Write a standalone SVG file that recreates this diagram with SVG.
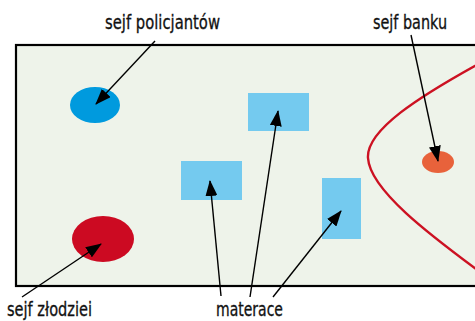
<svg xmlns="http://www.w3.org/2000/svg" width="475" height="321" viewBox="0 0 475 321">
<defs>
<marker id="ah" markerUnits="userSpaceOnUse" markerWidth="16" markerHeight="12" refX="15" refY="6" orient="auto">
<path d="M0,0 L16,6 L0,12 Z" fill="#000"/>
</marker>
<style>
.lbl{font-family:"Liberation Sans Narrow","DejaVu Sans Condensed","Liberation Sans",sans-serif;font-size:20px;fill:#111;stroke:#111;stroke-width:0.3;text-anchor:middle}
.con{stroke:#000;stroke-width:1.4;fill:none}
.mat{fill:#74caef}
</style>
</defs>
<rect x="0" y="0" width="475" height="321" fill="#fff"/>
<rect id="area" x="16" y="45" width="470" height="241" fill="#eef3ea" stroke="#000" stroke-width="2.2"/>
<path id="border" d="M480,63 C420,96 366,130 368,158 C370,190 430,235 480,272" fill="none" stroke="#cc1122" stroke-width="2.4"/>
<g id="sejf-policjantow"><ellipse cx="95" cy="105" rx="25" ry="18" fill="#009ade"/></g>
<g id="sejf-zlodziei"><ellipse cx="103" cy="239" rx="31" ry="23" fill="#cc0a22"/></g>
<g id="sejf-banku"><ellipse cx="438" cy="162" rx="16" ry="11" fill="#e8623b"/></g>
<g id="materac1"><rect class="mat" x="248" y="93" width="61" height="38"/></g>
<g id="materac2"><rect class="mat" x="181" y="161" width="61" height="39"/></g>
<g id="materac3"><rect class="mat" x="322" y="178" width="39" height="61"/></g>
<g id="connectors">
<line class="con" x1="155" y1="41" x2="96" y2="104" marker-end="url(#ah)"/>
<line class="con" x1="411" y1="35" x2="438" y2="161" marker-end="url(#ah)"/>
<line class="con" x1="22" y1="297" x2="101" y2="244" marker-end="url(#ah)"/>
<line class="con" x1="221" y1="296" x2="210" y2="181" marker-end="url(#ah)"/>
<line class="con" x1="250" y1="297" x2="278" y2="111" marker-end="url(#ah)"/>
<line class="con" x1="273" y1="297" x2="341" y2="211" marker-end="url(#ah)"/>
</g>
<g id="labels">
<text class="lbl" x="162.5" y="29" textLength="115" lengthAdjust="spacingAndGlyphs">sejf policjantów</text>
<text class="lbl" x="410" y="29" textLength="74" lengthAdjust="spacingAndGlyphs">sejf banku</text>
<text class="lbl" x="49.5" y="315.5" textLength="85" lengthAdjust="spacingAndGlyphs">sejf złodziei</text>
<text class="lbl" x="249.5" y="315.5" textLength="67" lengthAdjust="spacingAndGlyphs">materace</text>
</g>
</svg>
